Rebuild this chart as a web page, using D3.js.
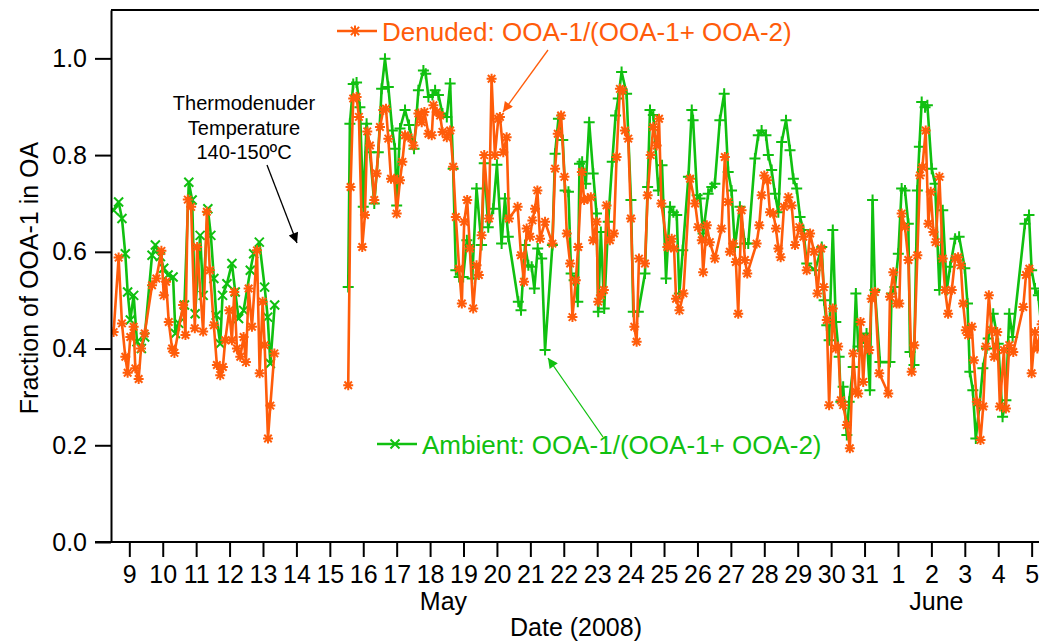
<!DOCTYPE html>
<html>
<head>
<meta charset="utf-8">
<script src="https://cdn.jsdelivr.net/npm/d3@7"></script>
<style>
  body { margin: 0; background: #fff; }
  text { font-family: "Liberation Sans", Arial, sans-serif; }
</style>
</head>
<body>
<svg id="chart" width="1039" height="644"></svg>
<script>
// DATA: [day of May 2008 (June 1 = 32), fraction]
const denudedEarly = [
  [8.53,0.434],[8.68,0.588],[8.78,0.452],[8.88,0.383],[8.95,0.350],[9.03,0.424],[9.13,0.445],[9.18,0.359],
  [9.28,0.337],[9.35,0.400],[9.46,0.431],[9.68,0.531],[9.81,0.545],[9.96,0.602],[10.03,0.510],[10.10,0.538],
  [10.18,0.455],[10.28,0.400],[10.35,0.391],[10.61,0.490],[10.68,0.428],[10.75,0.708],[10.85,0.693],[10.96,0.442],
  [11.03,0.610],[11.21,0.435],[11.32,0.683],[11.41,0.562],[11.53,0.448],[11.62,0.366],[11.72,0.345],[11.80,0.362],
  [11.87,0.417],[11.99,0.479],[12.07,0.417],[12.14,0.517],[12.22,0.400],[12.32,0.383],[12.42,0.424],[12.49,0.372],
  [12.57,0.524],[12.67,0.445],[12.82,0.603],[12.90,0.349],[12.99,0.497],[13.05,0.407],[13.15,0.214],[13.22,0.282],
  [13.34,0.390]
];
const ambientEarly = [
  [8.53,0.686],[8.68,0.703],[8.78,0.669],[8.88,0.596],[8.95,0.517],[9.03,0.459],[9.13,0.510],[9.23,0.414],
  [9.36,0.400],[9.46,0.424],[9.68,0.593],[9.78,0.614],[9.93,0.590],[10.03,0.566],[10.16,0.552],[10.31,0.548],
  [10.38,0.431],[10.48,0.452],[10.65,0.490],[10.78,0.744],[10.88,0.707],[10.97,0.472],[11.12,0.634],[11.21,0.510],
  [11.35,0.689],[11.44,0.634],[11.53,0.545],[11.60,0.469],[11.72,0.410],[11.79,0.510],[11.92,0.534],[12.07,0.576],
  [12.17,0.517],[12.27,0.462],[12.42,0.479],[12.62,0.562],[12.72,0.596],[12.89,0.620],[13.05,0.527],[13.14,0.465],
  [13.22,0.369],[13.35,0.490]
];
const denudedLate = [
  [15.55,0.324],[15.62,0.734],[15.70,0.917],[15.80,0.920],[15.87,0.879],[15.97,0.610],[16.05,0.676],[16.12,0.849],
  [16.20,0.820],[16.33,0.707],[16.40,0.762],[16.50,0.858],[16.60,0.893],[16.68,0.896],[16.75,0.834],[16.83,0.751],
  [16.93,0.751],[17.00,0.679],[17.10,0.748],[17.17,0.786],[17.25,0.841],[17.35,0.837],[17.50,0.820],[17.65,0.886],
  [17.75,0.868],[17.83,0.889],[17.95,0.844],[18.05,0.841],[18.10,0.903],[18.20,0.889],[18.30,0.882],[18.37,0.848],
  [18.50,0.837],[18.60,0.851],[18.69,0.776],[18.77,0.672],[18.87,0.565],[18.95,0.493],[19.02,0.662],[19.11,0.707],
  [19.19,0.607],[19.29,0.483],[19.39,0.572],[19.46,0.552],[19.54,0.634],[19.62,0.800],[19.76,0.669],[19.84,0.958],
  [19.94,0.800],[20.04,0.875],[20.09,0.879],[20.19,0.806],[20.29,0.837],[20.36,0.669],[20.62,0.693],[20.72,0.593],
  [20.81,0.538],[20.89,0.648],[20.99,0.631],[21.06,0.665],[21.14,0.689],[21.21,0.727],[21.29,0.627],[21.44,0.662],
  [21.66,0.617],[21.74,0.772],[21.82,0.844],[21.92,0.882],[22.02,0.755],[22.09,0.638],[22.19,0.576],[22.26,0.465],
  [22.36,0.541],[22.43,0.610],[22.54,0.765],[22.61,0.707],[22.72,0.710],[22.81,0.713],[22.88,0.624],[22.98,0.662],
  [23.03,0.497],[23.11,0.510],[23.20,0.521],[23.28,0.696],[23.38,0.624],[23.50,0.638],[23.58,0.796],[23.68,0.937],
  [23.76,0.934],[23.83,0.851],[23.93,0.834],[24.01,0.669],[24.11,0.445],[24.18,0.414],[24.25,0.586],[24.43,0.576],
  [24.51,0.717],[24.60,0.800],[24.68,0.858],[24.78,0.820],[24.85,0.875],[24.92,0.700],[25.10,0.610],[25.23,0.627],
  [25.30,0.607],[25.36,0.503],[25.46,0.479],[25.58,0.514],[25.78,0.751],[25.93,0.700],[26.02,0.651],[26.13,0.624],
  [26.17,0.558],[26.28,0.655],[26.37,0.620],[26.52,0.586],[26.72,0.648],[26.82,0.796],[26.92,0.703],[26.97,0.600],
  [27.07,0.617],[27.15,0.579],[27.22,0.472],[27.32,0.686],[27.42,0.583],[27.49,0.555],[27.77,0.617],[27.85,0.655],
  [27.92,0.717],[28.00,0.758],[28.09,0.748],[28.17,0.682],[28.27,0.679],[28.35,0.648],[28.42,0.607],[28.49,0.589],
  [28.59,0.693],[28.72,0.713],[28.82,0.696],[28.92,0.614],[29.05,0.651],[29.17,0.631],[29.27,0.562],[29.37,0.638],
  [29.49,0.600],[29.59,0.514],[29.70,0.607],[29.78,0.527],[29.87,0.459],[29.94,0.283],[30.05,0.483],[30.14,0.400],
  [30.21,0.404],[30.29,0.293],[30.36,0.283],[30.47,0.242],[30.56,0.194],[30.66,0.390],[30.74,0.311],[30.81,0.307],
  [30.88,0.455],[30.96,0.331],[31.03,0.421],[31.14,0.397],[31.21,0.503],[31.31,0.517],[31.44,0.349],[31.71,0.307],
  [31.76,0.507],[31.86,0.558],[31.96,0.493],[32.04,0.493],[32.11,0.679],[32.21,0.651],[32.31,0.583],[32.41,0.352],
  [32.49,0.407],[32.58,0.593],[32.66,0.758],[32.73,0.775],[32.83,0.851],[32.91,0.658],[32.98,0.724],[33.06,0.641],
  [33.13,0.620],[33.24,0.755],[33.34,0.586],[33.41,0.521],[33.50,0.472],[33.61,0.521],[33.71,0.586],[33.80,0.589],
  [33.88,0.572],[33.95,0.493],[34.03,0.438],[34.10,0.428],[34.21,0.445],[34.27,0.376],[34.36,0.290],[34.47,0.211],
  [34.55,0.280],[34.63,0.404],[34.72,0.510],[34.80,0.438],[34.88,0.383],[34.97,0.434],[35.05,0.280],[35.17,0.397],
  [35.23,0.276],[35.33,0.407],[35.45,0.393],[35.75,0.486],[35.83,0.552],[35.93,0.565],[36.00,0.349],[36.10,0.434],
  [36.17,0.400],[36.30,0.450]
];
const ambientLate = [
  [15.55,0.527],[15.60,0.865],[15.70,0.947],[15.80,0.950],[15.90,0.899],[16.00,0.693],[16.10,0.865],[16.20,0.806],
  [16.33,0.700],[16.45,0.806],[16.55,0.937],[16.65,0.999],[16.75,0.941],[16.87,0.851],[16.95,0.813],[17.00,0.696],
  [17.10,0.855],[17.25,0.893],[17.37,0.862],[17.52,0.813],[17.65,0.934],[17.80,0.975],[17.87,0.968],[17.95,0.920],
  [18.07,0.924],[18.15,0.934],[18.25,0.924],[18.37,0.886],[18.50,0.879],[18.60,0.948],[18.69,0.772],[18.77,0.562],
  [18.87,0.548],[18.99,0.548],[19.10,0.624],[19.19,0.614],[19.26,0.545],[19.39,0.731],[19.54,0.614],[19.62,0.783],
  [19.74,0.651],[19.89,0.689],[20.00,0.780],[20.14,0.617],[20.24,0.710],[20.34,0.631],[20.64,0.497],[20.72,0.479],
  [20.84,0.614],[20.94,0.572],[21.04,0.569],[21.12,0.524],[21.22,0.607],[21.34,0.586],[21.44,0.397],[21.66,0.614],
  [21.74,0.803],[21.84,0.875],[21.97,0.831],[22.04,0.727],[22.14,0.724],[22.22,0.555],[22.31,0.541],[22.42,0.497],
  [22.47,0.782],[22.55,0.786],[22.66,0.741],[22.76,0.868],[22.88,0.762],[22.98,0.679],[23.03,0.476],[23.11,0.641],
  [23.21,0.483],[23.33,0.662],[23.45,0.786],[23.55,0.882],[23.63,0.917],[23.73,0.972],[23.88,0.927],[24.01,0.707],
  [24.08,0.476],[24.23,0.476],[24.43,0.555],[24.51,0.734],[24.58,0.893],[24.68,0.883],[24.83,0.727],[24.94,0.779],
  [25.06,0.545],[25.18,0.693],[25.28,0.682],[25.38,0.676],[25.46,0.514],[25.56,0.603],[25.73,0.755],[25.83,0.893],
  [25.87,0.872],[25.99,0.717],[26.08,0.710],[26.17,0.638],[26.32,0.720],[26.43,0.734],[26.52,0.741],[26.67,0.872],
  [26.80,0.927],[26.92,0.765],[27.02,0.727],[27.12,0.610],[27.27,0.693],[27.42,0.617],[27.52,0.617],[27.72,0.793],
  [27.82,0.841],[27.92,0.851],[28.05,0.841],[28.12,0.800],[28.22,0.769],[28.32,0.720],[28.42,0.682],[28.52,0.827],
  [28.65,0.872],[28.77,0.810],[28.87,0.751],[28.97,0.731],[29.07,0.672],[29.17,0.645],[29.27,0.576],[29.52,0.562],
  [29.72,0.610],[29.79,0.500],[29.87,0.448],[29.94,0.417],[30.05,0.645],[30.14,0.455],[30.24,0.383],[30.29,0.290],
  [30.36,0.321],[30.47,0.221],[30.54,0.290],[30.66,0.362],[30.74,0.514],[30.81,0.404],[30.96,0.421],[31.06,0.431],
  [31.16,0.314],[31.24,0.707],[31.31,0.521],[31.46,0.372],[31.76,0.372],[31.81,0.514],[31.91,0.527],[32.01,0.596],
  [32.11,0.731],[32.21,0.727],[32.31,0.658],[32.36,0.393],[32.48,0.366],[32.58,0.727],[32.64,0.817],[32.71,0.910],
  [32.81,0.899],[32.88,0.903],[33.01,0.772],[33.11,0.741],[33.24,0.521],[33.34,0.686],[33.46,0.521],[33.56,0.569],
  [33.71,0.627],[33.83,0.631],[34.00,0.566],[34.08,0.493],[34.15,0.352],[34.24,0.314],[34.33,0.214],[34.44,0.283],
  [34.54,0.359],[34.65,0.400],[34.70,0.421],[34.85,0.472],[35.00,0.410],[35.13,0.259],[35.23,0.293],[35.33,0.472],
  [35.43,0.424],[35.80,0.658],[35.92,0.676],[36.00,0.562],[36.10,0.524],[36.20,0.510],[36.35,0.400]
];
const yTicks = [0, 0.2, 0.4, 0.6, 0.8, 1.0];
const dayTicks = d3.range(9, 37);   // 9 May .. 5 June
const monthLabels = [{ label: "May", day: 18.4 }, { label: "June", day: 33.15 }];

const orange = "#ff5c0a", green = "#10c010";

// SETUP
const plotL = 111, plotR = 1039, plotT = 10, plotB = 542;
const svg = d3.select("#chart");

const x = d3.scaleLinear().domain([8.452, 36.22]).range([plotL, plotR]);
const y = d3.scaleLinear().domain([0, 1.1]).range([plotB, plotT]);

svg.append("clipPath").attr("id", "plot")
  .append("rect").attr("x", plotL).attr("y", 0).attr("width", plotR - plotL).attr("height", plotB);

// marker shapes
const plus = r => `M${-r},0H${r}M0,${-r}V${r}`;
const cross = r => `M${-r},${-r}L${r},${r}M${-r},${r}L${r},${-r}`;
const star = r => plus(r) + cross(r * 0.75);

const line = d3.line().x(d => x(d[0])).y(d => y(d[1]));
const g = svg.append("g").attr("clip-path", "url(#plot)");

function series(data, color, shape) {
  g.append("path").datum(data)
    .attr("d", line)
    .attr("fill", "none")
    .attr("stroke", color)
    .attr("stroke-width", 2.6)
    .attr("stroke-linejoin", "round");
  g.selectAll(null).data(data).enter().append("path")
    .attr("transform", d => `translate(${x(d[0])},${y(d[1])})`)
    .attr("d", shape)
    .attr("fill", "none")
    .attr("stroke", color)
    .attr("stroke-width", 2);
}

series(ambientEarly, green, cross(4.5));
series(ambientLate, green, plus(5.5));
series(denudedEarly, orange, star(5));
series(denudedLate, orange, star(5));

// AXES
const fontFam = "'Liberation Sans', Arial, sans-serif";
svg.append("g")
  .attr("transform", `translate(${plotL},0)`)
  .call(d3.axisLeft(y).tickValues(yTicks).tickFormat(d3.format(".1f"))
    .tickSize(16).tickPadding(8).tickSizeOuter(0))
  .call(a => a.selectAll("line,path").attr("stroke", "#000").attr("stroke-width", 2))
  .call(a => a.selectAll("text").attr("font-size", 25).attr("fill", "#000").style("font-family", fontFam));

svg.append("g")
  .attr("transform", `translate(0,${plotB})`)
  .call(d3.axisBottom(x).tickValues(dayTicks).tickFormat(d => d > 31 ? d - 31 : d)
    .tickSize(15).tickPadding(8).tickSizeOuter(0))
  .call(a => a.select(".domain").remove())
  .call(a => a.selectAll("line").attr("stroke", "#000").attr("stroke-width", 2))
  .call(a => a.selectAll("text").attr("font-size", 25).attr("fill", "#000").style("font-family", fontFam));

// frame: bottom line extends to the left tick, top line
svg.append("line").attr("x1", 95).attr("x2", plotR).attr("y1", plotB).attr("y2", plotB)
  .attr("stroke", "#000").attr("stroke-width", 2);
svg.append("line").attr("x1", plotL).attr("x2", plotR).attr("y1", plotT).attr("y2", plotT)
  .attr("stroke", "#000").attr("stroke-width", 2);

// LABELS
svg.selectAll(".month").data(monthLabels).enter().append("text")
  .attr("x", d => x(d.day)).attr("y", 610)
  .attr("text-anchor", "middle").attr("font-size", 25)
  .text(d => d.label);

svg.append("text")
  .attr("x", 576).attr("y", 636)
  .attr("text-anchor", "middle").attr("font-size", 25)
  .text("Date (2008)");

svg.append("text")
  .attr("transform", "translate(38,278) rotate(-90)")
  .attr("text-anchor", "middle").attr("font-size", 25)
  .text("Fraction of OOA-1 in OA");

// annotation
const note = svg.append("text").attr("text-anchor", "middle").attr("font-size", 20);
["Thermodenuder", "Temperature", "140-150ºC"].forEach((t, i) =>
  note.append("tspan").attr("x", 244).attr("y", 110 + i * 24.5).text(t));

// arrows
const defs = svg.append("defs");
function arrow(id, color, x1, y1, x2, y2, w) {
  defs.append("marker").attr("id", id)
    .attr("viewBox", "0 0 10 10").attr("refX", 10).attr("refY", 5)
    .attr("markerWidth", 16).attr("markerHeight", 10)
    .attr("markerUnits", "userSpaceOnUse").attr("orient", "auto")
    .append("path").attr("d", "M0,0L10,5L0,10Z").attr("fill", color);
  svg.append("line").attr("x1", x1).attr("y1", y1).attr("x2", x2).attr("y2", y2)
    .attr("stroke", color).attr("stroke-width", w)
    .attr("marker-end", `url(#${id})`);
}
arrow("aBlack", "#000", 267, 165, 297, 243, 1.3);
arrow("aOrange", orange, 548, 50, 503, 112, 1.3);
arrow("aGreen", green, 603, 437, 548, 358, 1.3);

// LEGENDS
function legend(color, shape, x0, yc, label) {
  svg.append("line").attr("x1", x0).attr("x2", x0 + 40).attr("y1", yc).attr("y2", yc)
    .attr("stroke", color).attr("stroke-width", 2.6);
  svg.append("path").attr("transform", `translate(${x0 + 18},${yc})`)
    .attr("d", shape).attr("fill", "none").attr("stroke", color).attr("stroke-width", 2);
  svg.append("text").attr("x", x0 + 45).attr("y", yc + 10)
    .attr("font-size", 26).attr("fill", color).text(label);
}
legend(orange, star(5.5), 337, 31, "Denuded: OOA-1/(OOA-1+ OOA-2)");
legend(green, cross(4.5), 377, 444, "Ambient: OOA-1/(OOA-1+ OOA-2)");
</script>
</body>
</html>
